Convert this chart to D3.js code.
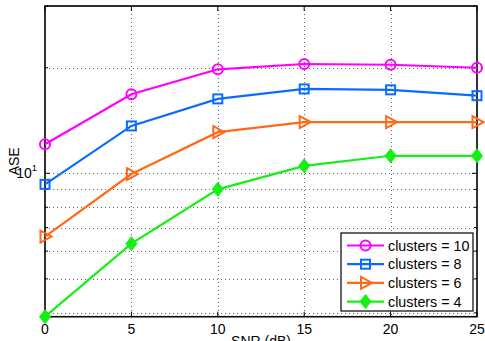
<!DOCTYPE html>
<meta charset="utf-8">
<style>
    body { margin: 0; background: #fff; }
    svg { font-family: "Liberation Sans", Arial, sans-serif; display: block; }
    .grid line { stroke: #666; stroke-width: 1; stroke-dasharray: 1,3; shape-rendering: crispEdges; }
</style>
<body>
<script src="https://cdn.jsdelivr.net/npm/d3@7"></script>
<script>
    // data
    const snr = [0, 5, 10, 15, 20, 25];
    const seriesNames = ["clusters = 10", "clusters = 8", "clusters = 6", "clusters = 4"];
    const ase10 = [12.1, 16.8, 19.8, 20.5, 20.4, 20.0];
    const ase8 = [9.3, 13.65, 16.3, 17.4, 17.3, 16.65];
    const ase6 = [6.6, 9.95, 13.1, 14.0, 14.0, 14.0];
    const ase4 = [3.9, 6.3, 9.0, 10.5, 11.22, 11.22];
    const xTicks = [0, 5, 10, 15, 20, 25];
    const yGrid = [4, 5, 6, 7, 8, 9, 10, 20, 30];

    const colors = ["#ff00ff", "#0a6cff", "#ff6a1a", "#14f014"];
    const markers = ["circle", "square", "triangle", "diamond"];
    const allSeries = [ase10, ase8, ase6, ase4];

    const W = 485, H = 341;
    const margin = {top: 6, right: 8, bottom: 24.3, left: 45};
    const iw = W - margin.left - margin.right;
    const ih = H - margin.top - margin.bottom;

    const svg = d3.select("body").append("svg")
        .attr("width", W).attr("height", H);

    const g = svg.append("g").attr("transform", `translate(${margin.left},${margin.top})`);

    const x = d3.scaleLinear().domain([0, 25]).range([0, iw]);
    const y = d3.scaleLog().domain([3.9, 30]).range([ih, 0]);

    // grid
    const grid = g.append("g").attr("class", "grid");
    grid.selectAll(".vx").data(xTicks.slice(1, -1)).enter().append("line")
        .attr("x1", d => Math.round(x(d)) + 0.5).attr("x2", d => Math.round(x(d)) + 0.5)
        .attr("y1", 0).attr("y2", ih);
    grid.selectAll(".hy").data(yGrid).enter().append("line")
        .attr("x1", 0).attr("x2", iw)
        .attr("y1", d => Math.round(y(d)) + 0.5).attr("y2", d => Math.round(y(d)) + 0.5);

    // ticks (inside, all four sides)
    const ticks = g.append("g").attr("stroke", "#000").attr("stroke-width", 1);
    xTicks.forEach(t => {
        ticks.append("line").attr("x1", x(t)).attr("x2", x(t)).attr("y1", ih).attr("y2", ih - 5);
        ticks.append("line").attr("x1", x(t)).attr("x2", x(t)).attr("y1", 0).attr("y2", 5);
    });
    yGrid.forEach(t => {
        const len = t === 10 ? 5 : 3;
        ticks.append("line").attr("x1", 0).attr("x2", len).attr("y1", y(t)).attr("y2", y(t));
        ticks.append("line").attr("x1", iw).attr("x2", iw - len).attr("y1", y(t)).attr("y2", y(t));
    });

    // frame
    g.append("rect").attr("width", iw).attr("height", ih)
        .attr("fill", "none").attr("stroke", "#000").attr("stroke-width", 1.6);

    // tick labels
    g.append("g").selectAll("text").data(xTicks).enter().append("text")
        .attr("x", d => x(d)).attr("y", ih + 17)
        .attr("text-anchor", "middle").attr("font-size", 14)
        .text(d => d);

    const yl = g.append("text").attr("x", -8).attr("y", y(10) + 5)
        .attr("text-anchor", "end").attr("font-size", 14);
    yl.append("tspan").text("10");
    yl.append("tspan").attr("dy", -7).attr("font-size", 9.5).text("1");

    // axis titles
    svg.append("text")
        .attr("x", margin.left + iw / 2).attr("y", H + 5)
        .attr("text-anchor", "middle").attr("font-size", 14)
        .text("SNR (dB)");
    svg.append("text")
        .attr("transform", `translate(19,${margin.top + ih / 2}) rotate(-90)`)
        .attr("text-anchor", "middle").attr("font-size", 14)
        .text("ASE");

    function drawMarker(sel, type, color, cx, cy) {
        if (type === "circle") {
            sel.append("circle").attr("cx", cx).attr("cy", cy).attr("r", 5)
                .attr("fill", "none").attr("stroke", color).attr("stroke-width", 2);
        } else if (type === "square") {
            sel.append("rect").attr("x", cx - 4.5).attr("y", cy - 4.5)
                .attr("width", 9).attr("height", 9)
                .attr("fill", "none").attr("stroke", color).attr("stroke-width", 2);
        } else if (type === "triangle") {
            sel.append("path")
                .attr("d", `M${cx - 4.5},${cy - 6}L${cx + 6.5},${cy}L${cx - 4.5},${cy + 6}Z`)
                .attr("fill", "none").attr("stroke", color).attr("stroke-width", 2);
        } else {
            sel.append("path")
                .attr("d", `M${cx},${cy - 7}L${cx + 5.5},${cy}L${cx},${cy + 7}L${cx - 5.5},${cy}Z`)
                .attr("fill", color).attr("stroke", color).attr("stroke-width", 1);
        }
    }

    const line = d3.line().x((d, i) => x(snr[i])).y(d => y(d));

    allSeries.forEach((vals, k) => {
        const sg = g.append("g");
        sg.append("path").datum(vals).attr("d", line)
            .attr("fill", "none").attr("stroke", colors[k]).attr("stroke-width", 2.2);
        vals.forEach((v, i) => drawMarker(sg, markers[k], colors[k], x(snr[i]), y(v)));
    });

    // legend
    const lg = svg.append("g").attr("transform", "translate(341,233)");
    lg.append("rect").attr("width", 132).attr("height", 78)
        .attr("fill", "#fff").attr("stroke", "#000").attr("stroke-width", 1.2);
    seriesNames.forEach((name, k) => {
        const ly = 12.5 + k * 18.7;
        lg.append("line").attr("x1", 6).attr("x2", 43).attr("y1", ly).attr("y2", ly)
            .attr("stroke", colors[k]).attr("stroke-width", 2.2);
        drawMarker(lg, markers[k], colors[k], 24.5, ly);
        lg.append("text").attr("x", 47).attr("y", ly + 5)
            .attr("font-size", 14.3).text(name);
    });
</script>
</body>
</html>
